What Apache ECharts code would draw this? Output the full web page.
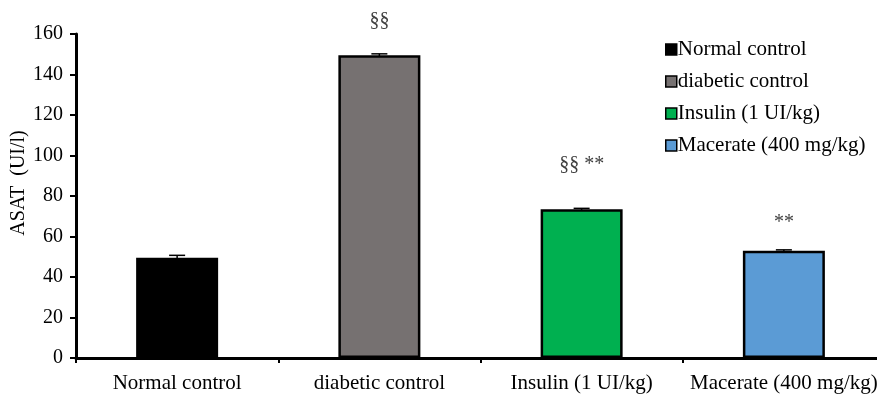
<!DOCTYPE html>
<html><head><meta charset="utf-8">
<script src="https://cdn.jsdelivr.net/npm/echarts@6/dist/echarts.min.js"></script>
<style>html,body{margin:0;padding:0;background:#fff}#c{width:877px;height:394px}</style>
</head><body><div id="c"></div>
<script>
const categories = ['Normal control', 'diabetic control', 'Insulin (1 UI/kg)', 'Macerate (400 mg/kg)'];
const values = [49.5, 149.5, 73.5, 53];
const errors = [1.2, 0.7, 0.4, 0.4];
const annotations = ['', '§§', '§§ **', '**'];
const yTicks = [0, 20, 40, 60, 80, 100, 120, 140, 160];
const yTitle = 'ASAT  (UI/l)';
const colors = ['#000000', '#767171', '#00B050', '#5B9BD5'];

const font = 'Liberation Serif, Times New Roman, serif';
const annDist = [0, 25, 34, 18];

const series = categories.map((name, i) => ({
  name: name,
  type: 'bar',
  stack: 'all',
  barWidth: 82,
  data: categories.map((c, j) => j === i ? values[j] : '-'),
  itemStyle: { color: colors[i], borderColor: '#000', borderWidth: i === 0 ? 0 : 2.5 },
  label: {
    show: annotations[i] !== '', position: 'top', distance: annDist[i],
    formatter: () => annotations[i], color: '#404040', fontFamily: font, fontSize: 20
  },
  z: 2
}));

series.push({
  type: 'custom',
  name: 'err',
  z: 5,
  data: values.map((v, i) => [i, v - errors[i], v + errors[i]]),
  renderItem: function (params, api) {
    const x = api.value(0);
    const lo = api.coord([x, api.value(1)]);
    const hi = api.coord([x, api.value(2)]);
    const w = 8;
    return {
      type: 'group',
      children: [
        { type: 'line', shape: { x1: hi[0], y1: hi[1], x2: lo[0], y2: lo[1] }, style: { stroke: '#000', lineWidth: 1.5 } },
        { type: 'line', shape: { x1: hi[0] - w, y1: hi[1], x2: hi[0] + w, y2: hi[1] }, style: { stroke: '#000', lineWidth: 1.5 } }
      ]
    };
  }
});

const chart = echarts.init(document.getElementById('c'));
chart.setOption({
  animation: false,
  backgroundColor: '#fff',
  grid: { left: 76, right: -8, top: 34, bottom: 36, outerBoundsMode: 'none', containLabel: false },
  graphic: [{
    type: 'text',
    x: 19, y: 183,
    rotation: Math.PI / 2,
    style: { text: yTitle, fontFamily: font, fontSize: 20, fill: '#000', align: 'center', verticalAlign: 'middle' }
  }],
  legend: {
    data: categories,
    orient: 'vertical',
    left: 660, top: 34,
    itemWidth: 11, itemHeight: 11, itemGap: 11,
    icon: 'rect',
    textStyle: { fontFamily: font, fontSize: 21, color: '#000', padding: [0, 0, 0, -4] },
    itemStyle: { borderColor: '#000', borderWidth: 1.5 }
  },
  xAxis: {
    type: 'category',
    data: categories,
    axisLine: { lineStyle: { color: '#000', width: 3 } },
    axisTick: { show: true, length: 5, lineStyle: { color: '#000', width: 2 } },
    axisLabel: { color: '#000', fontFamily: font, fontSize: 21, margin: 15, interval: 0 }
  },
  yAxis: {
    type: 'value',
    min: yTicks[0], max: yTicks[yTicks.length - 1], interval: 20,
    axisLine: { show: true, lineStyle: { color: '#000', width: 3 } },
    axisTick: { show: true, length: 6, lineStyle: { color: '#000', width: 2 } },
    axisLabel: { color: '#000', fontFamily: font, fontSize: 20, margin: 13 },
    splitLine: { show: false }
  },
  series: series
});
</script></body></html>
